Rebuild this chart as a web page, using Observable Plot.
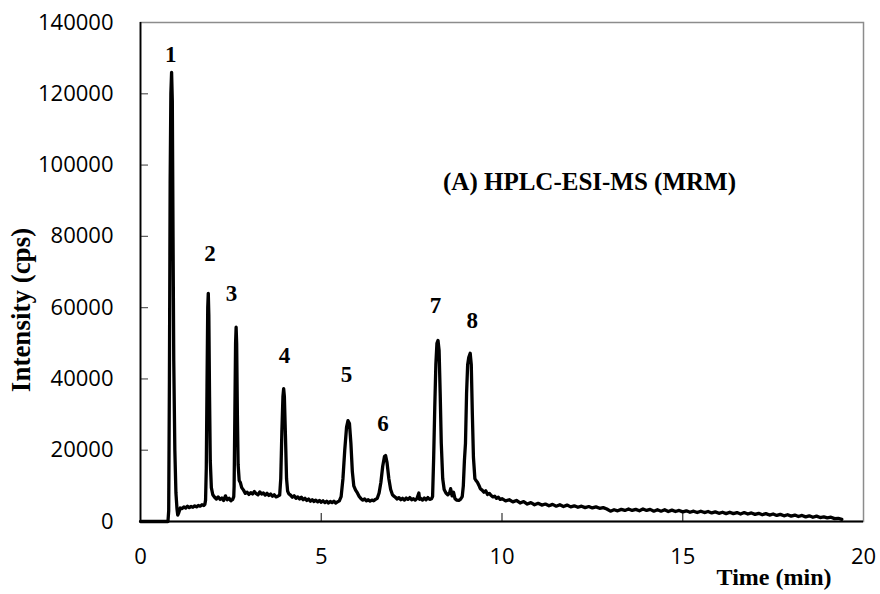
<!DOCTYPE html>
<html><head><meta charset="utf-8">
<script src="https://cdn.jsdelivr.net/npm/d3@7"></script>
<script src="https://cdn.jsdelivr.net/npm/@observablehq/plot@0.6"></script>
<style>html,body{margin:0;padding:0;background:#fff} svg{display:block}</style>
</head><body><div id="chart"></div>
<script>
// [time (min), intensity (cps)]
const chromatogram = [
  [0,0],[0.76,0],[0.78,3000],[0.80,40000],[0.82,95000],[0.84,120000],[0.86,126000],[0.88,118000],[0.90,80000],[0.92,45000],[0.95,20000],[0.98,8000],[1.01,3500],[1.03,1800],[1.06,2500],[1.10,3800],
  [1.15,3600],[1.2,4100],[1.25,3800],[1.3,4300],[1.35,3900],[1.4,4200],[1.45,4000],[1.5,4400],[1.55,4100],[1.6,4500],[1.65,4300],[1.7,4700],[1.75,4500],[1.78,4800],
  [1.80,6000],[1.82,15000],[1.84,38000],[1.86,60000],[1.875,64000],[1.89,58000],[1.91,35000],[1.93,17000],[1.96,9500],[2.0,7500],[2.05,6800],
  [2.1,6300],[2.15,6900],[2.2,6200],[2.25,6600],[2.3,5900],[2.35,7200],[2.4,6100],[2.45,6500],[2.5,5800],[2.55,6200],[2.58,7000],
  [2.59,10000],[2.61,30000],[2.63,50000],[2.645,54500],[2.66,50000],[2.68,30000],[2.70,16000],[2.73,11500],[2.76,11000],[2.8,9500],[2.85,8800],[2.9,7900],
  [2.95,8200],[3.0,7600],[3.05,8100],[3.1,7700],[3.15,8400],[3.2,7800],[3.25,7500],[3.3,8300],[3.35,7700],[3.4,8000],[3.45,7400],[3.5,7900],[3.55,7300],[3.6,7700],[3.65,7100],[3.7,7500],[3.75,6900],[3.8,7100],[3.85,7400],
  [3.88,12000],[3.91,25000],[3.94,35000],[3.96,37300],[3.98,35000],[4.01,24000],[4.04,12000],[4.07,8500],[4.1,7800],
  [4.15,7400],[4.2,6800],[4.25,7200],[4.3,6500],[4.35,6900],[4.4,6300],[4.45,6800],[4.5,6100],[4.55,6500],[4.6,5900],[4.65,6300],[4.7,5700],[4.75,6100],[4.8,5600],[4.85,6000],[4.9,5500],[4.95,5900],[5.0,5400],[5.05,5800],[5.1,5300],[5.15,5700],[5.2,5200],[5.25,5600],[5.3,5300],[5.35,5700],[5.4,5200],[5.45,5500],[5.5,5800],
  [5.55,7000],[5.6,12000],[5.65,20000],[5.7,26500],[5.74,28300],[5.78,27500],[5.82,22000],[5.86,14000],[5.9,10000],[5.95,8800],[6.0,8000],[6.05,7000],[6.1,6400],[6.15,6000],[6.2,6300],[6.25,5800],[6.3,6100],[6.35,5700],[6.4,6000],[6.45,5800],[6.5,6200],[6.55,6500],
  [6.6,8000],[6.65,11000],[6.7,15500],[6.75,18300],[6.78,18500],[6.82,16500],[6.87,12000],[6.92,9000],[6.97,7500],[7.0,7200],
  [7.05,6800],[7.1,6300],[7.15,6700],[7.2,6100],[7.25,6500],[7.3,6000],[7.35,6600],[7.4,6200],[7.45,6700],[7.5,6100],[7.55,6400],[7.6,6000],[7.65,6500],[7.7,8000],[7.72,6200],[7.75,6500],[7.8,6000],[7.85,6600],[7.9,6100],[7.95,6700],[8.0,6200],[8.05,6400],
  [8.08,7000],[8.11,18000],[8.14,32000],[8.17,44000],[8.2,50000],[8.23,50800],[8.26,48000],[8.29,36000],[8.32,22000],[8.36,12000],[8.4,9000],[8.45,8000],[8.5,7500],[8.55,8000],[8.58,9200],[8.62,7200],[8.66,8200],[8.7,6400],[8.75,6000],[8.8,5900],[8.85,6200],
  [8.9,7000],[8.93,10000],[8.96,17000],[8.99,22000],[9.02,36000],[9.05,44000],[9.08,46000],[9.12,47200],[9.15,44000],[9.18,30000],[9.21,18000],[9.25,12000],[9.28,11500],[9.32,11000],[9.36,10200],[9.4,9200],[9.45,8800],[9.5,8200],[9.55,8600],[9.6,7600],[9.65,7900],
  [9.7,7300],[9.75,6900],[9.8,7100],[9.85,6500],[9.9,6800],[9.95,6200],[10.0,6400],[10.1,5800],[10.2,6100],[10.3,5500],[10.4,5900],[10.5,5200],[10.6,5600],[10.7,4900],[10.8,5300],[10.9,4700],
  [11.0,5100],[11.1,4600],[11.2,4900],[11.3,4400],[11.4,4800],[11.5,4300],[11.6,4700],[11.7,4200],[11.8,4600],[11.9,4100],[12.0,4400],[12.1,4000],[12.2,4300],[12.3,3900],[12.4,4200],[12.5,3800],[12.6,4100],[12.7,3700],[12.8,3900],[12.9,3500],
  [13.0,2900],[13.1,3300],[13.2,3000],[13.3,3400],[13.4,3100],[13.5,3500],[13.6,3100],[13.7,3400],[13.8,3000],[13.9,3500],[14.0,3100],[14.1,3400],[14.2,2900],[14.3,3300],[14.4,2900],[14.5,3300],[14.6,2800],[14.7,3200],[14.8,2800],[14.9,3100],
  [15.0,2700],[15.1,3000],[15.2,2600],[15.3,2900],[15.4,2500],[15.5,2900],[15.6,2500],[15.7,2800],[15.8,2400],[15.9,2700],[16.0,2300],[16.1,2600],[16.2,2200],[16.3,2600],[16.4,2200],[16.5,2500],[16.6,2100],[16.7,2500],[16.8,2100],[16.9,2400],
  [17.0,2000],[17.1,2300],[17.2,1900],[17.3,2200],[17.4,1800],[17.5,2100],[17.6,1700],[17.7,2000],[17.8,1600],[17.9,1900],[18.0,1500],[18.1,1800],[18.2,1400],[18.3,1700],[18.4,1300],[18.5,1600],[18.6,1200],[18.7,1500],[18.8,1100],[18.9,1300],
  [19.0,1000],[19.1,1200],[19.2,800],[19.3,900],[19.4,600]
];

const peakNames = ["1","2","3","4","5","6","7","8"];
const peakLabelTime = [0.84, 1.92, 2.52, 3.98, 5.70, 6.71, 8.16, 9.18];
const peakLabelIntensity = [129000, 73200, 62000, 44600, 39000, 25500, 58400, 54400];

const xTicks = [0, 5, 10, 15, 20];
const yTicks = [0, 20000, 40000, 60000, 80000, 100000, 120000, 140000];
const xTitle = "Time (min)";
const yTitle = "Intensity (cps)";
const chartTitle = "(A) HPLC-ESI-MS (MRM)";

const W = 880, H = 594;
const mL = 140, mR = 17, mT = 22, mB = 73;
const innerW = W - mL - mR, innerH = H - mT - mB;
const tickLen = 8;
const serif = "'Liberation Serif', 'Times New Roman', serif";

const data = chromatogram.map(([t, v]) => ({t, v}));

const chart = Plot.plot({
  width: W, height: H,
  marginLeft: mL, marginRight: mR, marginTop: mT, marginBottom: mB,
  style: {fontFamily: "'Open Sans', sans-serif", fontSize: "22px", color: "#000", background: "#fff"},
  x: {domain: [0, 20], label: null},
  y: {domain: [0, 140000], label: null},
  marks: [
    Plot.frame({stroke: "#8c8c8c", strokeWidth: 1.5}),
    Plot.tickY(yTicks.slice(1, -1), {y: d => d, stroke: "#595959", strokeWidth: 1.2, insetRight: innerW - tickLen}),
    Plot.tickX(xTicks.slice(1, -1), {x: d => d, stroke: "#333", strokeWidth: 1.2, insetTop: innerH - tickLen}),
    Plot.ruleX([0], {stroke: "#000", strokeWidth: 1.8}),
    Plot.ruleY([0], {stroke: "#000", strokeWidth: 1.8}),
    Plot.axisX(xTicks, {tickSize: 0, tickPadding: 27, tickFormat: d3.format("d"), label: null, fill: "#000"}),
    Plot.axisY(yTicks, {tickSize: 0, tickPadding: 27, tickFormat: d3.format("d"), label: null, fill: "#000"}),
    Plot.line(data, {x: "t", y: "v", stroke: "#000", strokeWidth: 3.3, strokeLinejoin: "round", strokeLinecap: "round"}),
    Plot.text(peakNames, {x: (d, i) => peakLabelTime[i], y: (d, i) => peakLabelIntensity[i], text: d => d,
      fontFamily: serif, fontWeight: "bold", fontSize: 23, lineAnchor: "bottom", textAnchor: "middle", fill: "#000"}),
    Plot.text([chartTitle], {frameAnchor: "top-left", dx: 449, dy: 167, text: d => d,
      fontFamily: serif, fontWeight: "bold", fontSize: 25, lineAnchor: "bottom", textAnchor: "middle", fill: "#000"}),
    Plot.text([xTitle], {frameAnchor: "bottom-right", dx: -32, dy: 63, text: d => d,
      fontFamily: serif, fontWeight: "bold", fontSize: 24, lineAnchor: "bottom", textAnchor: "end", fill: "#000"}),
    Plot.text([yTitle], {frameAnchor: "left", dx: -111, dy: 38, rotate: -90, text: d => d,
      fontFamily: serif, fontWeight: "bold", fontSize: 27, lineAnchor: "bottom", textAnchor: "middle", fill: "#000"})
  ]
});
document.getElementById("chart").appendChild(chart);
</script>
</body></html>
